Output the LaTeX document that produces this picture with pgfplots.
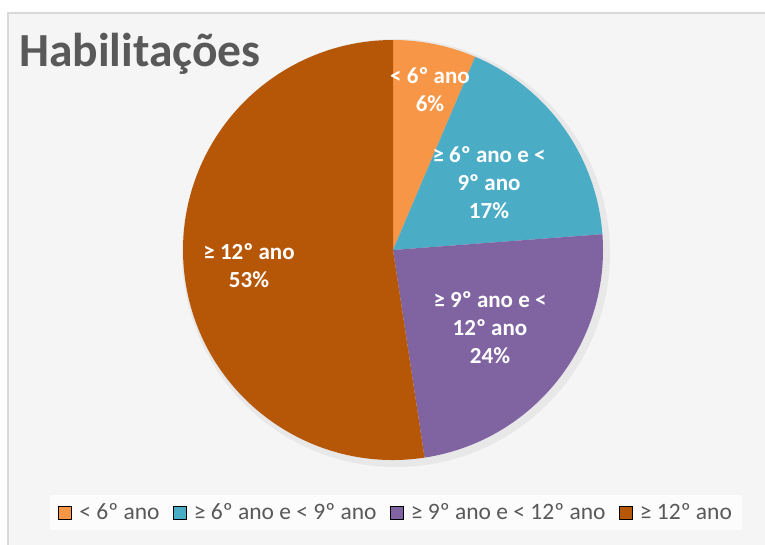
\documentclass[border=0pt]{standalone}
\usepackage{pgfplots}
\pgfplotsset{compat=1.18}
\usepackage{pgfplotstable}
\usepackage{fontspec}
\setmainfont{Carlito}
\definecolor{cA}{HTML}{F79646}
\definecolor{cB}{HTML}{4BACC6}
\definecolor{cC}{HTML}{8064A2}
\definecolor{cD}{HTML}{B65708}
\definecolor{txt}{HTML}{595959}
\definecolor{bg}{HTML}{F5F5F5}
\definecolor{frame}{HTML}{D9D9D9}
\pgfplotstableread{
label value
a 6.4
b 17.4
c 23.8
d 52.4
}\datatable
\begin{document}
\begin{tikzpicture}
\useasboundingbox (0,0) rectangle (765bp,545bp);
\clip (0,0) rectangle (765bp,545bp);
\fill[bg] (8bp,532bp) rectangle (790bp,-20bp);
\draw[frame,line width=1.5bp] (8bp,-20bp) -- (8bp,532bp) -- (790bp,532bp);
\pgfplotstablegetelem{0}{value}\of\datatable \let\va\pgfplotsretval
\pgfplotstablegetelem{1}{value}\of\datatable \let\vb\pgfplotsretval
\pgfplotstablegetelem{2}{value}\of\datatable \let\vc\pgfplotsretval
\pgfplotstablegetelem{3}{value}\of\datatable \let\vd\pgfplotsretval
\pgfmathsetmacro\aA{90}
\pgfmathsetmacro\aB{\aA-3.6*\va}
\pgfmathsetmacro\aC{\aB-3.6*\vb}
\pgfmathsetmacro\aD{\aC-3.6*\vc}
\pgfmathsetmacro\aE{\aD-3.6*\vd}
\begin{axis}[
  at={(0,0)}, anchor=south west,
  width=765bp, height=545bp, scale only axis,
  xmin=0, xmax=765, ymin=0, ymax=545, y dir=reverse,
  hide axis, clip=false,
  legend columns=4,
  legend image code/.code={\fill[#1] (0bp,-6.5bp) rectangle (13bp,6.5bp);},
  legend style={at={(axis cs:396,512.5)}, anchor=center, draw=none,
    fill=white!70!bg, text=txt, font=\fontsize{23.5bp}{27bp}\selectfont,
    inner xsep=8bp, inner ysep=7bp,
    /tikz/every odd column/.append style={column sep=6bp},
    /tikz/every even column/.append style={column sep=11bp},
    cells={anchor=west}},
]
\fill[black,opacity=0.05] (axis cs:396,253) circle[radius=214bp];
\fill[cA] (axis cs:393,250) -- ++(\aA:210bp) arc[start angle=\aA, end angle=\aB, radius=210bp] -- cycle;
\fill[cB] (axis cs:393,250) -- ++(\aB:210bp) arc[start angle=\aB, end angle=\aC, radius=210bp] -- cycle;
\fill[cC] (axis cs:393,250) -- ++(\aC:210bp) arc[start angle=\aC, end angle=\aD, radius=210bp] -- cycle;
\fill[cD] (axis cs:393,250) -- ++(\aD:210bp) arc[start angle=\aD, end angle=\aE, radius=210bp] -- cycle;
\addlegendimage{fill=cA}\addlegendentry{< 6º ano}
\addlegendimage{fill=cB}\addlegendentry{≥ 6º ano e < 9º ano}
\addlegendimage{fill=cC}\addlegendentry{≥ 9º ano e < 12º ano}
\addlegendimage{fill=cD}\addlegendentry{≥ 12º ano}
\node[anchor=base west, text=txt, font=\bfseries\fontsize{47.5bp}{50bp}\selectfont, inner sep=0pt] at (axis cs:19,67) {Habilitações};
\begin{scope}[every node/.style={text=white, font=\bfseries\fontsize{23bp}{28bp}\selectfont, inner sep=0pt, align=center}]
\node at (axis cs:430,90) {< 6º ano\\6\%};
\node at (axis cs:489,183) {≥ 6º ano e <\\9º ano\\17\%};
\node at (axis cs:490,328) {≥ 9º ano e <\\12º ano\\24\%};
\node at (axis cs:249,266) {≥ 12º ano\\53\%};
\end{scope}
\end{axis}
\end{tikzpicture}
\end{document}
